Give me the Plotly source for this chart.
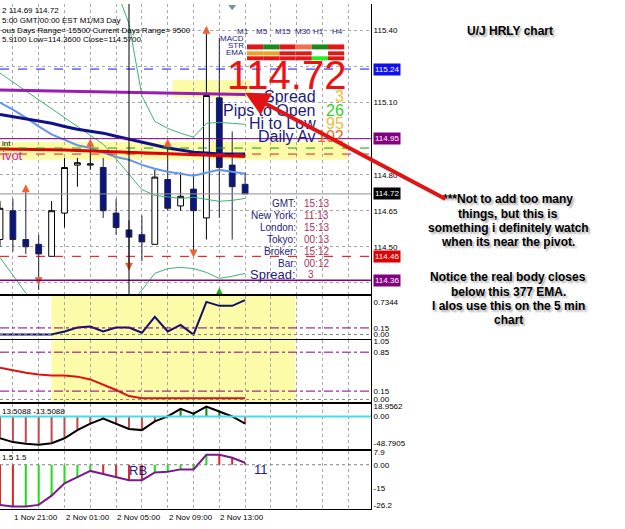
import plotly.graph_objects as go

W, H = 625, 529

# ---------------- data ----------------
hours = list(range(-1, 19))          # H1 bar index, 0 = 1 Nov 21:00
open_ = [114.53, 114.65, 114.53, 114.51, 114.46, 114.64, 114.84, 114.84, 114.83, 114.64,
         114.57, 114.55, 114.51, 114.78, 114.67, 114.74, 114.62, 115.12, 114.84, 114.76]
high = [114.69, 114.70, 114.73, 114.55, 114.69, 114.87, 114.87, 114.92, 114.87, 114.70,
        114.61, 114.63, 114.82, 114.92, 114.81, 114.80, 115.39, 115.37, 114.98, 114.81]
low = [114.50, 114.48, 114.47, 114.32, 114.46, 114.58, 114.75, 114.82, 114.62, 114.55,
       114.43, 114.44, 114.51, 114.65, 114.65, 114.47, 114.53, 114.62, 114.53, 114.72]
close = [114.66, 114.53, 114.50, 114.47, 114.65, 114.83, 114.85, 114.845, 114.65, 114.58,
         114.54, 114.52, 114.79, 114.66, 114.71, 114.65, 115.13, 114.83, 114.75, 114.72]

ema_purple = [115.153, 115.152, 115.151, 115.150, 115.149, 115.148, 115.147, 115.146, 115.145, 115.144,
              115.143, 115.142, 115.141, 115.140, 115.139, 115.138, 115.137, 115.136, 115.135, 115.134]
ema_red = [114.907, 114.907, 114.906, 114.905, 114.904, 114.903, 114.901, 114.899, 114.897, 114.895,
           114.893, 114.891, 114.889, 114.887, 114.885, 114.883, 114.881, 114.879, 114.877, 114.876]
ema_navy = [115.051, 115.042, 115.034, 115.026, 115.014, 115.001, 114.989, 114.981, 114.973, 114.960,
            114.948, 114.936, 114.923, 114.911, 114.903, 114.894, 114.890, 114.886, 114.886, 114.886]
ema_light = [115.100, 115.071, 115.038, 115.001, 114.968, 114.944, 114.923, 114.911, 114.894, 114.874,
             114.862, 114.841, 114.825, 114.812, 114.804, 114.796, 114.808, 114.820, 114.812, 114.804]
bb_mid = [115.223, 115.186, 115.149, 115.112, 115.075, 115.038, 115.001, 114.964, 114.927, 114.866,
          114.804, 114.738, 114.714, 114.706, 114.701, 114.706, 114.697, 114.689, 114.693, 114.701]
bb_upper = [115.614, 115.634, 115.655, 115.675, 115.684, 115.675, 115.667, 115.655, 115.634, 115.573,
            115.429, 115.129, 115.022, 114.993, 114.973, 114.956, 115.014, 115.018, 115.014, 115.010]
bb_lower = [114.455, 114.381, 114.307, 114.257, 114.229, 114.204, 114.188, 114.179, 114.188, 114.204,
            114.257, 114.319, 114.389, 114.409, 114.414, 114.409, 114.393, 114.368, 114.377, 114.389]

fractal_up_hours = [1, 6, 12, 15]
fractal_up_price = [114.76, 114.95, 114.95, 115.42]
fractal_dn_hours = [2, 9, 14]
fractal_dn_price = [114.34, 114.40, 114.455]
signal_up_hour, signal_up_price = [16], [114.33]
marker_top_hour, marker_top_price = [17], [115.50]

level_prices = [115.24, 114.95, 114.72, 114.46, 114.36]
level_labels = ["115.24", "114.95", "114.72", "114.46", "114.36"]
pivot_zone = (114.862, 114.936)
pivot_green, pivot_red = 114.911, 114.886
top_zone = (115.121, 115.194)
top_zone_hours = (12.4, 18.4)
session_hour = 9

price_ticks = [115.40, 115.25, 115.10, 114.95, 114.80, 114.65, 114.50, 114.35]
price_ticktext = ["115.40", "", "115.10", "", "114.80", "114.65", "114.50", ""]

stoch_line = [0.0, 0.0, 0.0, 0.0, 0.0, 0.07, 0.16, 0.18, 0.07, 0.16,
              0.16, 0.04, 0.40, 0.07, 0.22, 0.0, 0.74, 0.65, 0.65, 0.78]
rsi_line = [0.57, 0.52, 0.48, 0.45, 0.43, 0.43, 0.41, 0.36, 0.27, 0.17,
            0.06, 0.02, 0.02, 0.02, 0.02, 0.02, 0.02, 0.02, 0.02, 0.02]
cci_line = [-40, -47, -50, -52, -49, -40, -25, -13, -4, -13,
            -23, -25, -9, 0, 14, 5, 18, 9, 0, -13]
cci_hist = [-38, -45, -48, -50, -47, -38, -24, -12, -4, -12,
            -22, -24, -8, 2, 13, 5, 17, 8, 0, -14]
mom_line = [-26, -27, -27, -26, -20, -12, -8, -4, -6, -8,
            -10, -10, -5, -4.5, -3, -3, 6.4, 6.4, 4.5, 1.3]
mom_dir = ['dn', 'dn', 'up', 'up', 'up', 'up', 'up', 'up', 'dn', 'dn',
           'dn', 'dn', 'up', 'up', 'up', 'up', 'up', 'dn', 'dn', 'dn']

time_tick_hours = [-4, 0, 4, 8, 12, 16]
time_tick_labels = ["1 Nov 17:00", "1 Nov 21:00", "2 Nov 01:00", "2 Nov 05:00", "2 Nov 09:00", "2 Nov 13:00"]

tf_labels = ["M1", "M5", "M15", "M30", "H1", "H4"]
sig_rows = ["MACD", "STR", "EMA"]
sig_states = [["dn", "up", "dn", "wk", "up", "dn"],
              ["nt", "nt", "dn", "dn", "na", "dn"],
              ["dn", "dn", "dn", "dn", "up2", "dn"]]
info_labels = ["Spread", "Pips to Open", "Hi to Low", "Daily Av"]
info_values = ["3", "26", "95", "102"]
clock_labels = ["GMT:", "New York:", "London:", "Tokyo:", "Broker:", "Bar:"]
clock_values = ["15:13", "11:13", "15:13", "00:13", "15:12", "00:12"]
note_lines = ["***Not to add too many", "things, but this is", "something i definitely watch",
              "when its near the pivot.", "", "Notice the real body closes", "below this 377 EMA.",
              "I alos use this on the 5 min", "chart"]

# ---------------- helpers ----------------
def px(x):
    return x / W


def py(y):
    return 1 - y / H


def dom(top, bot):
    return [1 - bot / H, 1 - top / H]


FONT = "Arial"
NAVY = "#1c1c80"
XR = [-1.0, 27.76]
XDOM = [0, 371 / W]
SHADOW = "2px 2px 2px #a8a8a8"

fig = go.Figure()

# ---------------- main panel ----------------
fig.add_trace(go.Candlestick(
    x=hours, open=open_, high=high, low=low, close=close,
    increasing=dict(line=dict(color="black", width=1), fillcolor="white"),
    decreasing=dict(line=dict(color="#202040", width=1), fillcolor="#0a1680"),
    whiskerwidth=0, hoverinfo="skip", showlegend=False, xaxis="x", yaxis="y"))

for series, color, width in [(bb_upper, "#3cb371", 1), (bb_mid, "#3cb371", 1), (bb_lower, "#3cb371", 1),
                             (ema_light, "#6495ed", 2), (ema_navy, "#10108c", 3),
                             (ema_red, "#e00000", 3), (ema_purple, "#9a1cb4", 3)]:
    fig.add_trace(go.Scatter(x=hours, y=series, mode="lines", line=dict(color=color, width=width),
                             hoverinfo="skip", showlegend=False, xaxis="x", yaxis="y"))

fig.add_trace(go.Scatter(x=fractal_up_hours, y=fractal_up_price, mode="markers",
                         marker=dict(symbol="arrow-up", size=8, color="#f06030"),
                         hoverinfo="skip", showlegend=False, xaxis="x", yaxis="y"))
fig.add_trace(go.Scatter(x=fractal_dn_hours, y=fractal_dn_price, mode="markers",
                         marker=dict(symbol="arrow-down", size=8, color="#f06030"),
                         hoverinfo="skip", showlegend=False, xaxis="x", yaxis="y"))
fig.add_trace(go.Scatter(x=signal_up_hour, y=signal_up_price, mode="markers",
                         marker=dict(symbol="arrow-up", size=13, color="#22aa22"),
                         hoverinfo="skip", showlegend=False, xaxis="x", yaxis="y"))
fig.add_trace(go.Scatter(x=marker_top_hour, y=marker_top_price, mode="markers",
                         marker=dict(symbol="triangle-down", size=7, color="#8090a0"),
                         hoverinfo="skip", showlegend=False, xaxis="x", yaxis="y"))

shapes = []
shapes.append(dict(type="rect", xref="x", yref="y", x0=XR[0], x1=25.9, y0=pivot_zone[0], y1=pivot_zone[1],
                   fillcolor="#fbfba8", line=dict(width=0), layer="below"))
shapes.append(dict(type="rect", xref="x", yref="y", x0=top_zone_hours[0], x1=top_zone_hours[1],
                   y0=top_zone[0], y1=top_zone[1], fillcolor="#fbfba8", line=dict(width=0), layer="below"))
level_styles = [("#1010ff", "dash", 1), ("#800080", "solid", 1), ("#909090", "solid", 1),
                ("#e00000", "dash", 1), ("#800080", "solid", 1.5)]
for lv, (c, d, w) in zip(level_prices, level_styles):
    shapes.append(dict(type="line", xref="x domain", yref="y", x0=0, x1=1, y0=lv, y1=lv,
                       line=dict(color=c, dash=d, width=w)))
shapes.append(dict(type="line", xref="x domain", yref="y", x0=0, x1=1, y0=pivot_green, y1=pivot_green,
                   line=dict(color="#10a010", dash="dash", width=1)))
shapes.append(dict(type="line", xref="x domain", yref="y", x0=0, x1=1, y0=pivot_red, y1=pivot_red,
                   line=dict(color="#e02020", dash="dash", width=1)))
shapes.append(dict(type="line", xref="x", yref="y domain", x0=session_hour, x1=session_hour, y0=0, y1=1,
                   line=dict(color="black", width=1)))

# ---------------- panel 2 ----------------
fig.add_trace(go.Scatter(x=hours, y=stoch_line, mode="lines", line=dict(color="#10106c", width=2),
                         hoverinfo="skip", showlegend=False, xaxis="x2", yaxis="y2"))
# ---------------- panel 3 ----------------
fig.add_trace(go.Scatter(x=hours, y=rsi_line, mode="lines", line=dict(color="#e01010", width=2),
                         hoverinfo="skip", showlegend=False, xaxis="x3", yaxis="y3"))
for ax in ("2", "3"):
    shapes.append(dict(type="rect", xref="x" + ax, yref="y" + ax + " domain", x0=3.0, x1=21.9, y0=0, y1=1,
                       fillcolor="#fbfba8", line=dict(width=0), layer="below"))
for ax, lv in [("2", 0.15), ("3", 0.85), ("3", 0.15)]:
    shapes.append(dict(type="line", xref="x domain", yref="y" + ax, x0=0, x1=1, y0=lv, y1=lv,
                       line=dict(color="#800080", dash="dashdot", width=1)))
for ax in ("2", "3", "5"):
    shapes.append(dict(type="line", xref="x domain", yref="y" + ax, x0=0, x1=1, y0=0, y1=0,
                       line=dict(color="#808080", dash="dot", width=1)))
# ---------------- panel 4 ----------------
fig.add_trace(go.Bar(x=hours, y=cci_hist, width=0.16,
                     marker=dict(color=["#c05050" if v < 0 else "#138a13" for v in cci_hist], line=dict(width=0)),
                     hoverinfo="skip", showlegend=False, xaxis="x4", yaxis="y4"))
shapes.append(dict(type="line", xref="x domain", yref="y4", x0=0, x1=1, y0=0, y1=0,
                   line=dict(color="#40e0e8", width=2)))
fig.add_trace(go.Scatter(x=hours, y=cci_line, mode="lines", line=dict(color="black", width=2),
                         hoverinfo="skip", showlegend=False, xaxis="x4", yaxis="y4"))
# ---------------- panel 5 ----------------
fig.add_trace(go.Bar(x=hours, y=mom_line, width=0.16,
                     marker=dict(color=["#22dd22" if d == "up" else "#e02828" for d in mom_dir], line=dict(width=0)),
                     hoverinfo="skip", showlegend=False, xaxis="x5", yaxis="y5"))
fig.add_trace(go.Scatter(x=hours, y=mom_line, mode="lines", line=dict(color="#7a1a8a", width=2),
                         hoverinfo="skip", showlegend=False, xaxis="x5", yaxis="y5"))

# ---------------- axes ----------------
def xaxis(anchor, mirror):
    return dict(range=XR, domain=XDOM, anchor=anchor, showticklabels=False, showgrid=True,
                gridcolor="#a8a8a8", griddash="3px,3px", gridwidth=1, tick0=0, dtick=2, zeroline=False,
                showline=True, linecolor="black", linewidth=1, mirror=mirror, ticks="",
                rangeslider=dict(visible=False), fixedrange=True)


def yaxis(domain, rng, tv, tt, grid=False):
    return dict(domain=domain, range=rng, side="right", anchor="x", tickvals=tv, ticktext=tt,
                showgrid=grid, gridcolor="#a8a8a8", griddash="3px,3px", zeroline=False, showline=True,
                linecolor="black", linewidth=1, ticks="", tickfont=dict(size=8, color="black", family=FONT),
                fixedrange=True)


layout = dict(
    width=W, height=H, margin=dict(l=0, r=0, t=0, b=0), paper_bgcolor="white", plot_bgcolor="white",
    showlegend=False, boxgap=0.36, barmode="overlay",
    xaxis=xaxis("y", False), xaxis2=xaxis("y2", True), xaxis3=xaxis("y3", True),
    xaxis4=xaxis("y4", True), xaxis5=xaxis("y5", True),
    yaxis=yaxis(dom(0, 294), [114.3026, 115.511], price_ticks, price_ticktext, grid=True),
    yaxis2=yaxis(dom(296, 339), [-0.09, 0.872], [0.7344, 0.15, 0.0], ["0.7344", "0.15", "0.00"]),
    yaxis3=yaxis(dom(341, 403), [-0.04, 1.06], [1.05, 0.85, 0.15, 0.0], ["1.05", "0.85", "0.15", "0.00"]),
    yaxis4=yaxis(dom(405, 451), [-59.7, 23.5], [18.9562, 0, -48.7905], ["18.9562", "0.00", "-48.7905"]),
    yaxis5=yaxis(dom(453, 512), [-28.8, 8.9], [7.9, 0, -15, -26.2], ["7.9", "0.00", "-15", "-26.2"]),
    shapes=shapes,
)
for k in ("yaxis2", "yaxis3", "yaxis4", "yaxis5"):
    layout[k]["anchor"] = "x" + k[-1]
fig.update_layout(**layout)

# signal grid shapes
state_colors = {"dn": "#e01818", "up": "#1a8a1a", "wk": "#f07050", "nt": "#f0a020", "na": "white", "up2": "#22ee22"}
row_y = [(41, 46), (48, 52), (53, 57)]
col_x0, col_w = 247, 16.2
for r, row in enumerate(sig_states):
    for c, st in enumerate(row):
        fig.add_shape(type="rect", xref="paper", yref="paper",
                      x0=px(col_x0 + c * col_w), x1=px(col_x0 + (c + 1) * col_w),
                      y0=py(row_y[r][1]), y1=py(row_y[r][0]), fillcolor=state_colors[st], line=dict(width=0))

ann = []


def text(x, y, s, size=8, color="black", xanchor="left", bold=False, yref="paper", xref="paper", shadow=None, **kw):
    f = dict(size=size, color=color, family=FONT)
    if shadow:
        f["shadow"] = shadow
    a = dict(x=x, y=y, xref=xref, yref=yref, text=("<b>%s</b>" % s) if bold else s, showarrow=False,
             xanchor=xanchor, yanchor="middle", font=f)
    a.update(kw)
    ann.append(a)


# header lines
text(px(0), py(7), "2 114.69 114.72", 8)
text(px(0), py(17), "5:00 GMT/00:00 EST M1/M3 Day", 8)
text(px(0), py(27), "ous Days Range= 15500 Current Days Range= 9500", 8)
text(px(0), py(36), "5.9100 Low=114.3600 Close=114.5700", 8)
text(px(0), py(154), "ivot", 13, "#e020c0")
text(px(0), py(141), "int", 8)

# timeframe signal grid labels
tf_x = [243, 262, 283, 303, 318, 337]
for lab, x in zip(tf_labels, tf_x):
    text(px(x), py(28), lab, 8, NAVY, xanchor="center")
for lab, y in zip(sig_rows, [35, 42, 49]):
    text(px(246), py(y), lab, 8, NAVY, xanchor="right")

# big price
text(px(286), py(72), "114.72", 40, "#ee1111", xanchor="center")
info_colors = ["#f0c030", "#30d030", "#e8c040", "#e07020"]
for i, (lab, val) in enumerate(zip(info_labels, info_values)):
    y = 94 + i * 13.5
    text(px(318), py(y), lab, 16, NAVY, xanchor="right")
    text(px(346), py(y), val, 16, info_colors[i], xanchor="right")

# clocks
for i, (lab, val) in enumerate(zip(clock_labels, clock_values)):
    y = 202 + i * 12.2
    text(px(298), py(y), lab, 10, NAVY, xanchor="right")
    text(px(302), py(y), val, 10, "#b0305a")
text(px(298), py(274), "Spread:", 13, NAVY, xanchor="right")
text(px(306), py(274), info_values[0], 10, "#b0305a")

# price level boxes
level_bg = ["#1010ee", "#800080", "black", "#e00000", "#800080"]
for lv, lab, bg in zip(level_prices, level_labels, level_bg):
    ann.append(dict(x=px(373), y=lv, xref="paper", yref="y", text=lab, showarrow=False, xanchor="left",
                    yanchor="middle", bgcolor=bg, borderpad=1, font=dict(size=8, color="white", family=FONT)))

# sub-panel captions
text(px(0), py(413), "13.5088 -13.5088", 8)
text(px(0), py(460), "1.5 1.5", 8)
text(px(138), py(473), "RB", 13, NAVY, xanchor="center")
text(px(252), py(472), "11", 13, NAVY)

# time axis labels
for hv, lab in zip(time_tick_hours, time_tick_labels):
    ann.append(dict(x=hv, y=py(520), xref="x5", yref="paper", text=lab, showarrow=False, xanchor="left",
                    yanchor="middle", xshift=-1, font=dict(size=8, color="black", family=FONT)))

# notes on the right
text(px(510), py(27), "U/J HRLY chart", 12, "black", xanchor="center", bold=True, shadow=SHADOW)
for i, line in enumerate(note_lines):
    if not line:
        continue
    y = 198 + i * 14.4 if i < 4 else 277 + (i - 5) * 14.4
    text(px(508), py(y), line, 12, "black", xanchor="center", bold=True, shadow=SHADOW)

# red arrow
ann.append(dict(x=px(245), y=py(90), xref="paper", yref="paper", ax=202, ay=107, axref="pixel", ayref="pixel",
                showarrow=True, arrowhead=2, arrowsize=1.2, arrowwidth=4, arrowcolor="#e01414", text=""))

fig.update_layout(annotations=ann)
fig.write_html("out.html")
